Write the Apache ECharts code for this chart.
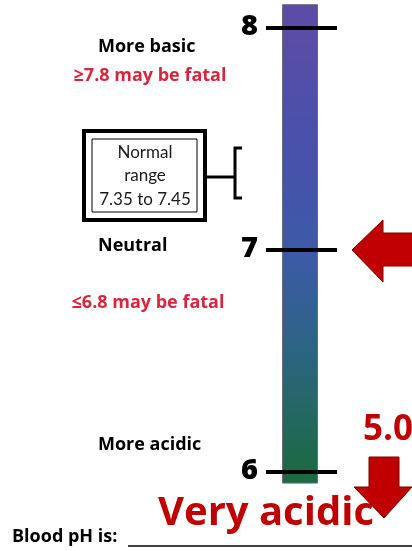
<!DOCTYPE html>
<html><head><meta charset="utf-8">
<script src="https://cdn.jsdelivr.net/npm/echarts@6/dist/echarts.min.js"></script>
<style>html,body{margin:0;padding:0;background:#fff}#c{width:412px;height:551px}</style>
</head><body><div id="c"></div>
<script>
// ---- data ----
const tickValues = [6, 7, 8];
const tickLabels = ['6', '7', '8'];
const barRange = [5.95, 8.105];
const pointerValue = 7;
const readingLabel = '5.0';
const readingText = 'Very acidic';
const zoneLabels = ['More basic', 'Neutral', 'More acidic'];
const fatalLabels = ['\u22657.8 may be fatal', '\u22646.8 may be fatal'];
const normalLines = ['Normal', 'range', '7.35 to 7.45'];

// ---- layout constants ----
const BAR_X = 300, BAR_W = 35, TICK_HALF = 34;
const RED = '#c00000', FATAL = '#d7263d';
const BOLD = '"Open Sans", "DejaVu Sans", sans-serif';

const chart = echarts.init(document.getElementById('c'), null, {renderer: 'canvas'});

const option = {
  animation: false,
  grid: {left: 0, right: 0, top: 28, bottom: 79},
  xAxis: {type: 'value', min: 0, max: 412, show: false},
  yAxis: {type: 'value', min: 6, max: 8, show: false},
  series: [
    {
      type: 'custom', clip: false, z: 2,
      data: [barRange],
      renderItem: function (params, api) {
        const top = api.coord([BAR_X, api.value(1)]);
        const bot = api.coord([BAR_X, api.value(0)]);
        return {
          type: 'rect',
          shape: {x: top[0] - BAR_W / 2, y: top[1], width: BAR_W, height: bot[1] - top[1]},
          style: {
            fill: new echarts.graphic.LinearGradient(0, 0, 0, 1, [
              {offset: 0, color: '#5e4ca6'},
              {offset: 0.27, color: '#4a50ab'},
              {offset: 0.52, color: '#3d5aa8'},
              {offset: 0.72, color: '#2c6483'},
              {offset: 1, color: '#1b6a3e'}
            ]),
            stroke: '#6b6b7a', lineWidth: 1
          }
        };
      }
    },
    {
      type: 'custom', clip: false, z: 3,
      data: tickValues.map((v, i) => [v, tickLabels[i]]),
      renderItem: function (params, api) {
        const p = api.coord([BAR_X, api.value(0)]);
        return {
          type: 'group',
          children: [
            {type: 'line', shape: {x1: p[0] - TICK_HALF, y1: p[1], x2: p[0] + TICK_HALF + 3, y2: p[1]},
             style: {stroke: '#000', lineWidth: 4}},
            {type: 'text', style: {text: tickLabels[params.dataIndex], x: p[0] - TICK_HALF - 8, y: p[1] - 1,
              align: 'right', verticalAlign: 'middle', font: '800 29px ' + BOLD, fill: '#000'}}
          ]
        };
      }
    },
    {
      type: 'custom', clip: false, z: 3,
      data: [[pointerValue]],
      renderItem: function (params, api) {
        const p = api.coord([352, api.value(0)]);
        const x = p[0], y = p[1];
        return {
          type: 'polygon',
          shape: {points: [[x, y], [x + 31, y - 30], [x + 31, y - 17], [x + 62, y - 17], [x + 62, y + 16],
                           [x + 31, y + 16], [x + 31, y + 32]]},
          style: {fill: RED, stroke: '#7a0000', lineWidth: 1}
        };
      }
    }
  ],
  graphic: [
    // down arrow for off-scale reading
    {type: 'polygon', shape: {points: [[369, 457], [399, 457], [399, 487], [412, 487], [384, 518], [354, 487], [369, 487]]},
     style: {fill: RED, stroke: '#7a0000', lineWidth: 1}},
    {type: 'text', style: {text: readingLabel, x: 388, y: 430, align: 'center', verticalAlign: 'middle',
      font: 'bold 35px ' + BOLD, fill: RED}},
    {type: 'text', style: {text: readingText, x: 266, y: 514, align: 'center', verticalAlign: 'middle',
      font: 'bold 40px ' + BOLD, fill: RED}},
    {type: 'text', style: {text: 'Blood pH is:', x: 12, y: 537, align: 'left', verticalAlign: 'middle',
      font: 'bold 18px ' + BOLD, fill: '#000'}},
    {type: 'line', shape: {x1: 128, y1: 546, x2: 412, y2: 546}, style: {stroke: '#000', lineWidth: 1.5}},
    // zone labels
    {type: 'text', style: {text: zoneLabels[0], x: 98, y: 47, align: 'left', verticalAlign: 'middle',
      font: 'bold 18px ' + BOLD, fill: '#000'}},
    {type: 'text', style: {text: fatalLabels[0], x: 150, y: 76, align: 'center', verticalAlign: 'middle',
      font: 'bold 18px ' + BOLD, fill: FATAL}},
    {type: 'text', style: {text: zoneLabels[1], x: 98, y: 246, align: 'left', verticalAlign: 'middle',
      font: 'bold 18px ' + BOLD, fill: '#000'}},
    {type: 'text', style: {text: fatalLabels[1], x: 148, y: 303, align: 'center', verticalAlign: 'middle',
      font: 'bold 18px ' + BOLD, fill: FATAL}},
    {type: 'text', style: {text: zoneLabels[2], x: 98, y: 445, align: 'left', verticalAlign: 'middle',
      font: 'bold 18px ' + BOLD, fill: '#000'}},
    // normal range box
    {type: 'rect', shape: {x: 84, y: 131, width: 121, height: 89}, style: {fill: '#fff', stroke: '#000', lineWidth: 4}},
    {type: 'rect', shape: {x: 92, y: 139, width: 105, height: 73}, style: {fill: 'none', stroke: '#000', lineWidth: 1}},
    {type: 'text', style: {text: normalLines.join('\n'), x: 145, y: 176, align: 'center', verticalAlign: 'middle',
      font: '17px Lato, "Open Sans", sans-serif', lineHeight: 23.5, fill: '#1a1a1a'}},
    {type: 'line', shape: {x1: 206, y1: 177, x2: 234, y2: 177}, style: {stroke: '#000', lineWidth: 3}},
    {type: 'polyline', shape: {points: [[242, 148], [235, 148], [235, 198], [242, 198]]},
     style: {fill: 'none', stroke: '#000', lineWidth: 3}}
  ]
};
chart.setOption(option);
</script></body></html>
